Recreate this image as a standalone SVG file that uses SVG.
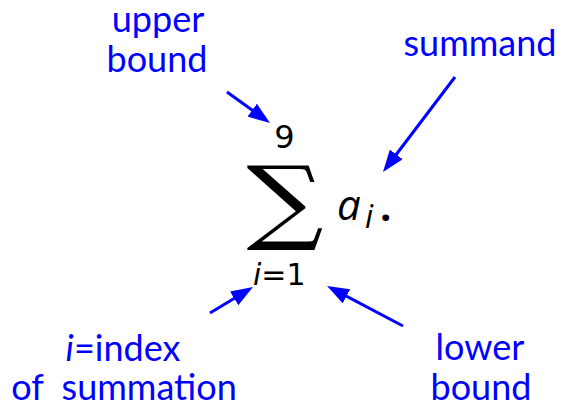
<svg xmlns="http://www.w3.org/2000/svg" width="562" height="404" viewBox="0 0 562 404">
<style>
.lbl{font-family:Lato,"Open Sans",sans-serif;font-size:36px;fill:#0000ff;text-anchor:middle}
.math{font-family:"DejaVu Sans",sans-serif;fill:#000}
.conn{stroke:#0000ff;stroke-width:3;fill:none;marker-end:url(#ah)}
</style>
<defs>
<marker id="ah" markerUnits="userSpaceOnUse" markerWidth="22" markerHeight="16" refX="12" refY="8" orient="auto" viewBox="0 0 22 16">
<path d="M0,0 L22,8 L0,16 z" fill="#0000ff"/>
</marker>
</defs>
<g id="formula">
<text class="math" x="284.5" y="148" font-size="32" text-anchor="middle">9</text>
<text transform="translate(285,231.5) scale(1.2,1.03)" x="0" y="0" font-family="'DejaVu Serif',serif" font-size="90" text-anchor="middle" fill="#000">∑</text>
<text x="337" y="220" font-family="'Open Sans',sans-serif" font-style="italic" font-size="42" fill="#000">a</text>
<text x="365" y="228" font-family="'Open Sans',sans-serif" font-style="italic" font-size="32" fill="#000">i</text>
<text x="380" y="221" font-family="'Open Sans',sans-serif" font-weight="bold" font-size="40" fill="#000">.</text>
<text class="math" x="253" y="285" font-size="30"><tspan font-style="italic">i</tspan><tspan>=</tspan><tspan>1</tspan></text>
</g>
<g id="upper-bound"><text class="lbl" x="158" y="32">upper</text><text class="lbl" x="157" y="72">bound</text></g>
<g id="summand"><text class="lbl" x="480" y="56">summand</text></g>
<g id="index"><text class="lbl" x="123" y="361"><tspan font-style="italic">i</tspan>=index</text><text class="lbl" x="124" y="400" xml:space="preserve">of  summation</text></g>
<g id="lower-bound"><text class="lbl" x="480" y="360">lower</text><text class="lbl" x="481" y="400">bound</text></g>
<g id="connectors">
<line class="conn" x1="227" y1="92" x2="261.9" y2="117.2"/>
<line class="conn" x1="455" y1="77" x2="389" y2="164"/>
<line class="conn" x1="210" y1="313" x2="244.4" y2="292.2"/>
<line class="conn" x1="403" y1="326" x2="335.9" y2="290.7"/>
</g>
</svg>
